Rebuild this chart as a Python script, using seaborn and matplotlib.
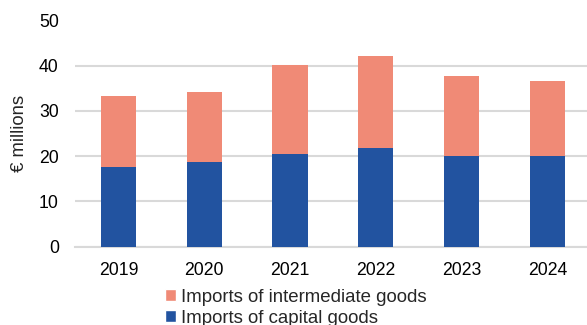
import matplotlib
matplotlib.use("Agg")
import matplotlib.pyplot as plt
from matplotlib.patches import Patch
import pandas as pd
import seaborn as sns

YEARS = ["2019", "2020", "2021", "2022", "2023", "2024"]
CAPITAL = [17.7, 18.7, 20.5, 21.8, 20.1, 20.1]
INTERMEDIATE = [15.6, 15.5, 19.7, 20.3, 17.6, 16.5]
LABEL_INTERMEDIATE = "Imports of intermediate goods"
LABEL_CAPITAL = "Imports of capital goods"

BLUE = "#2253a0"
SALMON = "#f08a76"
GRID = "#d9d9d9"

sns.set_style("white")
plt.rcParams["font.family"] = ["Liberation Sans", "DejaVu Sans"]

df = pd.DataFrame({"year": YEARS, "capital": CAPITAL, "intermediate": INTERMEDIATE})
df["total"] = df["capital"] + df["intermediate"]

fig = plt.figure(figsize=(5.87, 3.25), dpi=100)
ax = fig.add_axes([0.1286, 0.2409, 0.8773, 0.6962])

# stacked look: total in salmon behind, capital in blue in front
sns.barplot(data=df, x="year", y="total", color=SALMON, width=0.41,
            saturation=1, linewidth=0, edgecolor="none", ax=ax, zorder=3)
sns.barplot(data=df, x="year", y="capital", color=BLUE, width=0.41,
            saturation=1, linewidth=0, edgecolor="none", ax=ax, zorder=3)

ax.set_xlim(-0.5, 5.5)
ax.set_ylim(0, 50)
ax.set_yticks(range(0, 51, 10))
ax.yaxis.grid(True, color=GRID, linewidth=1.5, zorder=0)
ax.yaxis.get_gridlines()[-1].set_visible(False)
ax.set_axisbelow(True)
for side in ["top", "right", "left"]:
    ax.spines[side].set_visible(False)
ax.spines["bottom"].set_color(GRID)
ax.spines["bottom"].set_linewidth(1.5)
ax.tick_params(axis="both", length=0, labelsize=12.7, colors="#000000")
ax.tick_params(axis="y", pad=12)
ax.tick_params(axis="x", pad=11)
ax.set_xlabel("")
ax.set_ylabel("€ millions", fontsize=13.3, labelpad=8)

handles = [Patch(facecolor=SALMON, label=LABEL_INTERMEDIATE),
           Patch(facecolor=BLUE, label=LABEL_CAPITAL)]
fig.legend(handles=handles, loc="upper left", bbox_to_anchor=(0.281, 0.111),
           frameon=False, fontsize=13.4, handlelength=0.62, handleheight=0.62,
           handletextpad=0.25, labelspacing=0.21, borderpad=0, borderaxespad=0)

fig.savefig("out.png", dpi=100)
